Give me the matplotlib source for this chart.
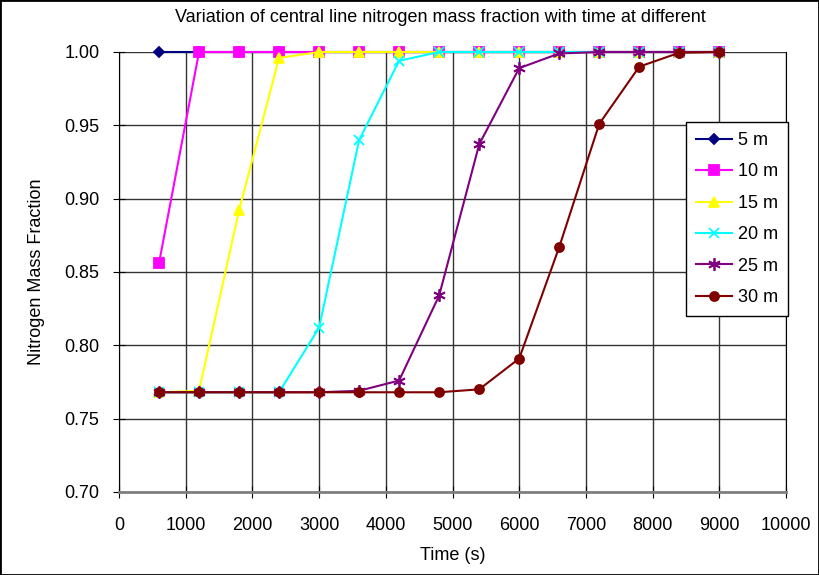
import matplotlib
matplotlib.use("Agg")
import matplotlib.pyplot as plt

plt.rcParams['font.family'] = ['Liberation Sans', 'DejaVu Sans']

time = [600, 1200, 1800, 2400, 3000, 3600, 4200, 4800, 5400, 6000, 6600, 7200, 7800, 8400, 9000]

n5 = [1.0] * 15
n10 = [0.856, 1.0, 1.0, 1.0, 1.0, 1.0, 1.0, 1.0, 1.0, 1.0, 1.0, 1.0, 1.0, 1.0, 1.0]
n15 = [0.768, 0.769, 0.892, 0.996, 1.0, 1.0, 1.0, 1.0, 1.0, 1.0, 1.0, 1.0, 1.0, 1.0, 1.0]
n20 = [0.768, 0.768, 0.768, 0.768, 0.812, 0.940, 0.994, 1.0, 1.0, 1.0, 1.0, 1.0, 1.0, 1.0, 1.0]
n25 = [0.768, 0.768, 0.768, 0.768, 0.768, 0.769, 0.776, 0.834, 0.937, 0.989, 0.999, 1.0, 1.0, 1.0, 1.0]
n30 = [0.768, 0.768, 0.768, 0.768, 0.768, 0.768, 0.768, 0.768, 0.770, 0.791, 0.867, 0.951, 0.990, 0.9995, 1.0]

labels = ['5 m', '10 m', '15 m', '20 m', '25 m', '30 m']
colors = ['#000080', '#FF00FF', '#FFFF00', '#00FFFF', '#800080', '#800000']
markers = ['D', 's', '^', 'x', (6, 2, 0), 'o']
sizes = [5, 6.5, 7.5, 7.5, 9, 6.5]

fig = plt.figure(figsize=(8.19, 5.75), dpi=100)
ax = fig.add_axes([119/819, 83/575, 667/819, 440/575])

for y, lab, c, m, s in zip([n5, n10, n15, n20, n25, n30], labels, colors, markers, sizes):
    ax.plot(time, y, color=c, marker=m, markersize=s, linewidth=1.5, label=lab,
            markeredgewidth=1.3, clip_on=False)

ax.set_xlim(0, 10000)
ax.set_ylim(0.70, 1.00)
ax.set_xticks(range(0, 10001, 1000))
ax.set_yticks([0.70, 0.75, 0.80, 0.85, 0.90, 0.95, 1.00])
ax.set_yticklabels(['%.2f' % v for v in [0.70, 0.75, 0.80, 0.85, 0.90, 0.95, 1.00]])
ax.grid(True, color='#333333', linewidth=1)
ax.set_axisbelow(True)
ax.tick_params(direction='inout', length=8, labelsize=13)
ax.tick_params(axis='x', pad=14)
ax.tick_params(axis='y', pad=10)
ax.spines['top'].set_visible(False)
ax.spines['right'].set_color('black')
ax.spines['left'].set_color('black')
ax.spines['bottom'].set_color('#808080')
ax.spines['bottom'].set_linewidth(2)

ax.set_xlabel('Time (s)', fontsize=13, labelpad=9)
ax.set_ylabel('Nitrogen Mass Fraction', fontsize=13, labelpad=14)
fig.text(440/819, 1 - 18/575, 'Variation of central line nitrogen mass fraction with time at different',
         ha='center', va='center', fontsize=13)

leg = ax.legend(loc='upper left', bbox_to_anchor=((686-119)/667, (492-122)/440), fontsize=13,
                frameon=True, fancybox=False, edgecolor='black', framealpha=1, borderaxespad=0,
                borderpad=0.55, labelspacing=0.8, handlelength=2.0, handletextpad=0.35)
leg.get_frame().set_linewidth(1)

fig.patches.append(plt.Rectangle((0, 0), 1, 1, transform=fig.transFigure, fill=False,
                                 edgecolor='black', linewidth=2))

fig.savefig('out.png', dpi=100)
